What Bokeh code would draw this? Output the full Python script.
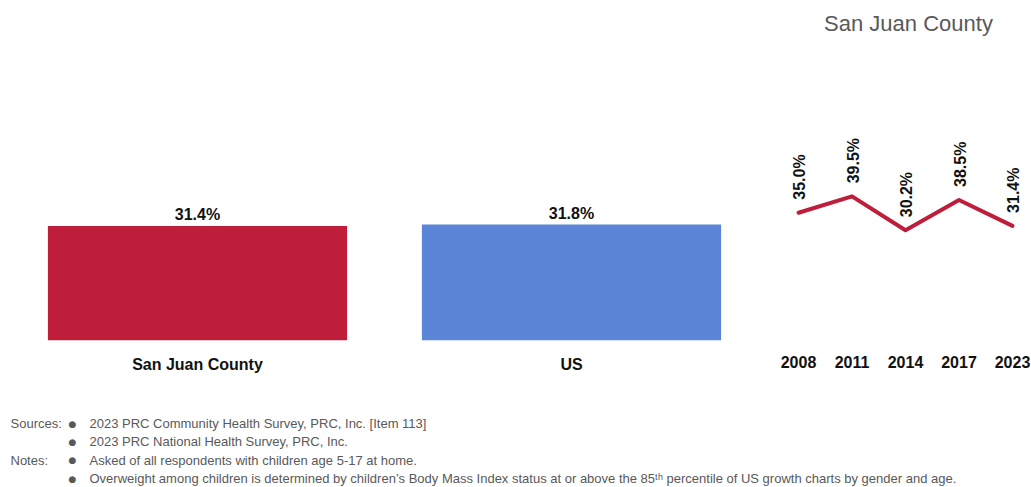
import math
from bokeh.plotting import figure
from bokeh.layouts import row, column
from bokeh.models import Range1d, FixedTicker, ColumnDataSource
from bokeh.core.properties import value
from bokeh.embed import file_html
from bokeh.resources import INLINE

# ---------------- data ----------------
areas = ["San Juan County", "US"]
area_values = [31.4, 31.8]
area_labels = ["31.4%", "31.8%"]

years = ["2008", "2011", "2014", "2017", "2023"]
trend_values = [35.0, 39.5, 30.2, 38.5, 31.4]
trend_labels = ["35.0%", "39.5%", "30.2%", "38.5%", "31.4%"]

title_text = "San Juan County"

note_heads = ["Sources:", "", "Notes:", ""]
note_lines = [
    "2023 PRC Community Health Survey, PRC, Inc. [Item 113]",
    "2023 PRC National Health Survey, PRC, Inc.",
    "Asked of all respondents with children age 5-17 at home.",
    "Overweight among children is determined by children\u2019s Body Mass Index status at or above the 85\u1d57\u02b0 percentile of US growth charts by gender and age.",
]

# ---------------- styling ----------------
RED = "#BE1E3A"
BLUE = "#5B85D6"
GRAY = "#595959"
FONT = "Liberation Sans"
LABEL_SIZE = "16px"

PX_PER_PCT = 3.65
FRAME_H = 340
AXIS_H = 48
MAIN_H = FRAME_H + AXIS_H
yr = Range1d(0, FRAME_H / PX_PER_PCT)


def style_axis(ax):
    ax.axis_line_color = None
    ax.major_tick_line_color = None
    ax.minor_tick_line_color = None
    ax.major_label_text_font = FONT
    ax.major_label_text_font_style = "bold"
    ax.major_label_text_font_size = LABEL_SIZE
    ax.major_label_text_color = "#111111"
    ax.major_label_standoff = 9


# ---------------- bars ----------------
BAR_LEFT = 10
BAR_W = 758
p1 = figure(x_range=areas, y_range=yr, width=BAR_W, height=MAIN_H,
            output_backend="svg", toolbar_location=None,
            min_border_left=BAR_LEFT, min_border_right=0, min_border_top=0,
            min_border_bottom=AXIS_H, y_axis_location=None)
src1 = ColumnDataSource(dict(x=areas, top=area_values, lab=area_labels,
                             color=[RED, BLUE]))
p1.vbar(x="x", top="top", width=0.8, fill_color="color", line_color=None,
        source=src1)
p1.text(x="x", y="top", text="lab", source=src1, text_align="center",
        text_baseline="alphabetic", y_offset=-11,
        text_font=value(FONT), text_font_style="bold",
        text_font_size=LABEL_SIZE, text_color="#111111")
style_axis(p1.xaxis[0])
p1.xgrid.visible = False
p1.ygrid.visible = False
p1.outline_line_color = None

# ---------------- trend ----------------
LINE_W = 273
STEP = 53.5
LEFT_PAD = 40
xs = list(range(len(years)))
x0 = -LEFT_PAD / STEP
xr = Range1d(x0, x0 + LINE_W / STEP)
p2 = figure(x_range=xr, y_range=yr, width=LINE_W, height=MAIN_H,
            output_backend="svg", toolbar_location=None,
            min_border_left=0, min_border_right=0, min_border_top=0,
            min_border_bottom=AXIS_H, y_axis_location=None)
src2 = ColumnDataSource(dict(x=xs, y=trend_values, lab=trend_labels))
p2.line(x="x", y="y", source=src2, line_color=RED, line_width=4,
        line_join="round", line_cap="round")
p2.text(x="x", y="y", text="lab", source=src2, angle=math.pi / 2,
        text_align="left", text_baseline="middle", x_offset=1, y_offset=-13,
        text_font=value(FONT), text_font_style="bold",
        text_font_size=LABEL_SIZE, text_color="#111111")
p2.xaxis.ticker = FixedTicker(ticks=xs)
p2.xaxis.major_label_overrides = {i: y for i, y in enumerate(years)}
style_axis(p2.xaxis[0])
p2.xgrid.visible = False
p2.ygrid.visible = False
p2.outline_line_color = None
# panel title (top right)
p2.text(x=[(908 - BAR_W - LEFT_PAD) / STEP], y=[(FRAME_H - 23) / PX_PER_PCT],
        text=[title_text], text_align="center", text_baseline="middle",
        text_font=value(FONT), text_font_size="22px",
        text_color=GRAY)

# ---------------- notes ----------------
NOTES_W, NOTES_H = 1031, 98
p3 = figure(x_range=Range1d(0, NOTES_W), y_range=Range1d(0, NOTES_H),
            width=NOTES_W, height=NOTES_H, output_backend="svg",
            toolbar_location=None, min_border=0,
            x_axis_location=None, y_axis_location=None)
p3.xgrid.visible = False
p3.ygrid.visible = False
p3.outline_line_color = None
top_line = 423 - MAIN_H
ys = [NOTES_H - (top_line + 18.4 * i) for i in range(4)]
p3.text(x=[10] * 4, y=ys, text=note_heads, text_align="left",
        text_baseline="middle", text_font=value(FONT),
        text_font_size="13px", text_color=GRAY)
p3.text(x=[72] * 4, y=ys, text=["\u25cf"] * 4, text_align="center",
        text_baseline="middle", text_font=value("DejaVu Sans"),
        text_font_size="9px", text_color=GRAY)
p3.text(x=[89] * 4, y=ys, text=note_lines, text_align="left",
        text_baseline="middle", text_font=value(FONT),
        text_font_size="13px", text_color=GRAY)

layout = column(row(p1, p2, spacing=0), p3, spacing=0)

open("out.html", "w").write(file_html(layout, INLINE))
